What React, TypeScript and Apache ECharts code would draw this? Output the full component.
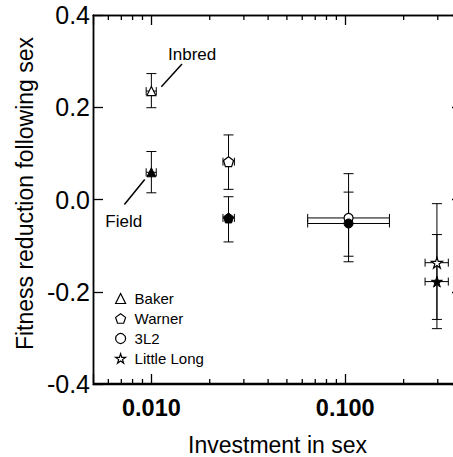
import React, { useEffect, useRef } from 'react';
import * as echarts from 'echarts';

// ---- data ----
const populations = ['Baker', 'Warner', '3L2', 'Little Long'];
const investment = [0.01, 0.025, 0.104, 0.297];
const investmentLow = [0.0094, 0.0234, 0.064, 0.258];
const investmentHigh = [0.0106, 0.0268, 0.169, 0.34];
const inbredFitness = [0.235, 0.082, -0.04, -0.137];
const inbredLow = [0.199, 0.022, -0.135, -0.26];
const inbredHigh = [0.273, 0.14, 0.056, -0.009];
const fieldFitness = [0.059, -0.04, -0.052, -0.178];
const fieldLow = [0.0145, -0.092, -0.123, -0.28];
const fieldHigh = [0.104, 0.006, 0.016, -0.076];
const xRange = [0.005, 0.4];
const yRange = [-0.4, 0.4];
const yInterval = 0.2;
const xMinorTicks = [0.006, 0.007, 0.008, 0.009, 0.02, 0.03, 0.04, 0.05, 0.06, 0.07, 0.08, 0.09, 0.2, 0.3];
const annotationLabels = ['Inbred', 'Field'];
const annotationLines = [
  [0.01126, 0.2442, 0.01439, 0.294],
  [0.00726, -0.0108, 0.00924, 0.0433],
];
const annotationTextPos = [
  [0.01219, 0.314],
  [0.00579, -0.047],
];

const PENTAGON = 'path://M50 0 L97.55 34.55 L79.39 90.45 L20.61 90.45 L2.45 34.55 Z';
const STAR = 'path://M50 0 L61.2 34.5 L97.6 34.5 L68.2 55.9 L79.4 90.5 L50 69.1 L20.6 90.5 L31.8 55.9 L2.4 34.5 L38.8 34.5 Z';
const symbols = ['triangle', PENTAGON, 'circle', STAR];
const symbolSizes = [9, 10, 9, 11];

const FONT = '"Liberation Sans", Arial, Helvetica, sans-serif';

const mkLine = () => ({ show: true, onZero: false, lineStyle: { color: '#000', width: 1.3 } });
const mkTick = () => ({ show: true, inside: true, length: 10, lineStyle: { color: '#000', width: 1.3 } });

export default function App() {
  const ref = useRef<HTMLDivElement>(null);

  useEffect(() => {
    if (!ref.current) return;
    const chart = echarts.init(ref.current, undefined, { renderer: 'svg' });

    const errData: number[][] = [];
    populations.forEach((_, i) => {
      errData.push([investment[i], inbredFitness[i], investmentLow[i], investmentHigh[i], inbredLow[i], inbredHigh[i]]);
      errData.push([investment[i], fieldFitness[i], investmentLow[i], investmentHigh[i], fieldLow[i], fieldHigh[i]]);
    });

    const scatterSeries: any[] = [];
    populations.forEach((p, i) => {
      scatterSeries.push({
        type: 'scatter',
        name: p,
        symbol: symbols[i],
        symbolSize: symbolSizes[i],
        data: [[investment[i], inbredFitness[i]]],
        itemStyle: { color: '#fff', borderColor: '#000', borderWidth: 1.2, opacity: 1 },
        z: 5,
        silent: true,
      });
      scatterSeries.push({
        type: 'scatter',
        name: p + ' (field)',
        symbol: symbols[i],
        symbolSize: symbolSizes[i],
        data: [[investment[i], fieldFitness[i]]],
        itemStyle: { color: '#000', borderColor: '#000', borderWidth: 1, opacity: 1 },
        z: 5,
        silent: true,
      });
    });

    const lineStyle = { stroke: '#000', lineWidth: 1 };

    const option: any = {
      animation: false,
      backgroundColor: '#fff',
      textStyle: { fontFamily: FONT },
      grid: { left: 93, top: 15, right: -9, bottom: 73, containLabel: false, outerBoundsMode: 'none' },
      legend: {
        data: populations.map((p, i) => ({ name: p, icon: symbols[i] })),
        orient: 'vertical',
        left: 110,
        top: 286,
        itemWidth: 10,
        itemHeight: 10,
        itemGap: 5,
        symbolKeepAspect: true,
        selectedMode: false,
        itemStyle: { color: '#fff', borderColor: '#000', borderWidth: 1.2 },
        textStyle: { fontSize: 15, color: '#000', fontFamily: FONT, padding: [0, 0, 0, 4] },
      },
      xAxis: [
        {
          type: 'log',
          logBase: 10,
          min: xRange[0],
          max: xRange[1],
          position: 'bottom',
          axisLine: mkLine(),
          axisTick: mkTick(),
          axisLabel: {
            margin: 12,
            fontSize: 23.5,
            fontWeight: 'bold',
            color: '#000',
            fontFamily: FONT,
            formatter: (v: number) => {
              const l = Math.log10(v);
              return Math.abs(l - Math.round(l)) < 1e-6 ? v.toFixed(3) : '';
            },
          },
          splitLine: { show: false },
          name: 'Investment in sex',
          nameLocation: 'middle',
          nameGap: 52,
          nameTextStyle: { fontSize: 23, lineHeight: 18, color: '#000', fontFamily: FONT },
        },
        {
          type: 'log',
          logBase: 10,
          min: xRange[0],
          max: xRange[1],
          position: 'top',
          axisLine: mkLine(),
          axisTick: mkTick(),
          axisLabel: { show: false },
          splitLine: { show: false },
        },
      ],
      yAxis: [
        {
          type: 'value',
          min: yRange[0],
          max: yRange[1],
          interval: yInterval,
          position: 'left',
          axisLine: mkLine(),
          axisTick: mkTick(),
          axisLabel: {
            margin: 3,
            fontSize: 25,
            color: '#000',
            fontFamily: FONT,
            formatter: (v: number) => v.toFixed(1),
          },
          splitLine: { show: false },
          name: 'Fitness reduction following sex',
          nameLocation: 'middle',
          nameGap: 55,
          nameTextStyle: { fontSize: 23, color: '#000', fontFamily: FONT, padding: [0, 0, 0, 12] },
        },
        {
          type: 'value',
          min: yRange[0],
          max: yRange[1],
          interval: yInterval,
          position: 'right',
          axisLine: mkLine(),
          axisTick: mkTick(),
          axisLabel: { show: false },
          splitLine: { show: false },
        },
      ],
      series: [
        {
          type: 'custom',
          name: 'frame',
          silent: true,
          clip: false,
          zlevel: 1,
          z: 100,
          data: [[xRange[0], yRange[0], xRange[1], yRange[1]]],
          encode: { x: 0, y: 1 },
          renderItem: (params: any, api: any) => {
            const bl = api.coord([api.value(0), api.value(1)]);
            const tr = api.coord([api.value(2), api.value(3)]);
            const x0 = bl[0] + 0.5;
            const x1 = tr[0] - 0.5;
            const y0 = tr[1] + 0.5;
            const y1 = bl[1] - 0.5;
            const st = { stroke: '#000', lineWidth: 1.6 };
            return {
              type: 'group',
              children: [
                { type: 'line', shape: { x1: x0, y1: y0, x2: x1, y2: y0 }, style: st },
                { type: 'line', shape: { x1: x0, y1: y1, x2: x1, y2: y1 }, style: st },
                { type: 'line', shape: { x1: x0, y1: y0, x2: x0, y2: y1 }, style: st },
                { type: 'line', shape: { x1: x1, y1: y0, x2: x1, y2: y1 }, style: st },
              ],
            };
          },
        },
        {
          type: 'custom',
          name: 'minor ticks',
          silent: true,
          z: 3,
          data: xMinorTicks.map((v) => [v, 0]),
          encode: { x: 0, y: 1 },
          renderItem: (params: any, api: any) => {
            const v = api.value(0);
            const top = api.coord([v, yRange[1]]);
            const bot = api.coord([v, yRange[0]]);
            return {
              type: 'group',
              children: [
                { type: 'line', shape: { x1: bot[0], y1: bot[1], x2: bot[0], y2: bot[1] - 5 }, style: { stroke: '#000', lineWidth: 1.3 } },
                { type: 'line', shape: { x1: top[0], y1: top[1], x2: top[0], y2: top[1] + 5 }, style: { stroke: '#000', lineWidth: 1.3 } },
              ],
            };
          },
        },
        {
          type: 'custom',
          name: 'error bars',
          silent: true,
          z: 4,
          data: errData,
          encode: { x: 0, y: 1 },
          renderItem: (params: any, api: any) => {
            const x = api.value(0);
            const y = api.value(1);
            const pT = api.coord([x, api.value(5)]);
            const pB = api.coord([x, api.value(4)]);
            const pL = api.coord([api.value(2), y]);
            const pR = api.coord([api.value(3), y]);
            const cw = 5;
            const ch = 4;
            return {
              type: 'group',
              children: [
                { type: 'line', shape: { x1: pT[0], y1: pT[1], x2: pB[0], y2: pB[1] }, style: lineStyle },
                { type: 'line', shape: { x1: pT[0] - cw, y1: pT[1], x2: pT[0] + cw, y2: pT[1] }, style: lineStyle },
                { type: 'line', shape: { x1: pB[0] - cw, y1: pB[1], x2: pB[0] + cw, y2: pB[1] }, style: lineStyle },
                { type: 'line', shape: { x1: pL[0], y1: pL[1], x2: pR[0], y2: pR[1] }, style: lineStyle },
                { type: 'line', shape: { x1: pL[0], y1: pL[1] - ch, x2: pL[0], y2: pL[1] + ch }, style: lineStyle },
                { type: 'line', shape: { x1: pR[0], y1: pR[1] - ch, x2: pR[0], y2: pR[1] + ch }, style: lineStyle },
              ],
            };
          },
        },
        {
          type: 'custom',
          name: 'annotations',
          silent: true,
          z: 6,
          data: annotationLabels.map((_, i) => [...annotationLines[i], ...annotationTextPos[i]]),
          encode: { x: 0, y: 1 },
          renderItem: (params: any, api: any) => {
            const i = params.dataIndex;
            const p1 = api.coord([api.value(0), api.value(1)]);
            const p2 = api.coord([api.value(2), api.value(3)]);
            const pt = api.coord([api.value(4), api.value(5)]);
            return {
              type: 'group',
              children: [
                { type: 'line', shape: { x1: p1[0], y1: p1[1], x2: p2[0], y2: p2[1] }, style: { stroke: '#000', lineWidth: 1.5 } },
                {
                  type: 'text',
                  x: pt[0],
                  y: pt[1],
                  style: {
                    text: annotationLabels[i],
                    fill: '#000',
                    fontSize: 17,
                    fontFamily: FONT,
                    align: 'left',
                    verticalAlign: 'middle',
                  },
                },
              ],
            };
          },
        },
        ...scatterSeries,
      ],
    };

    chart.setOption(option);
    return () => chart.dispose();
  }, []);

  return <div ref={ref} style={{ position: 'absolute', left: 0, top: 0, width: 453, height: 457 }} />;
}
